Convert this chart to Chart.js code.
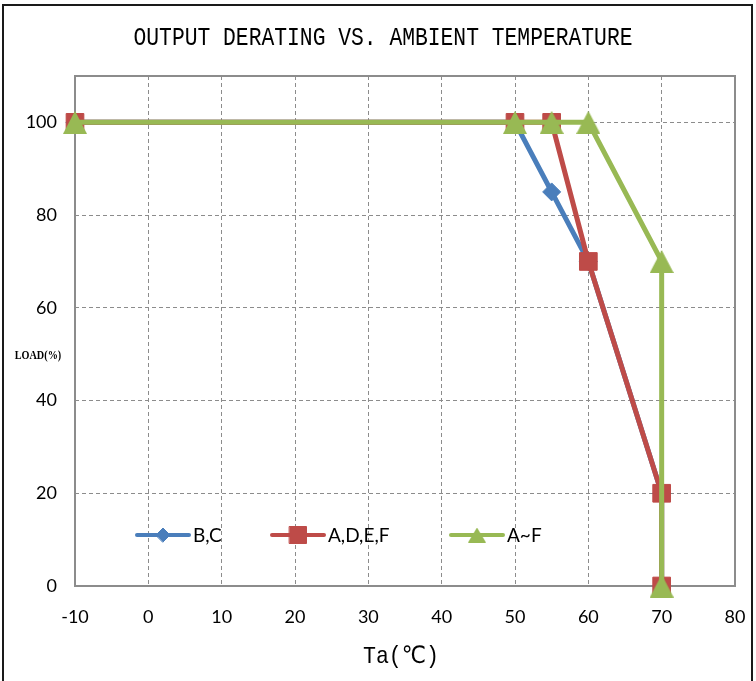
<!DOCTYPE html>
<html>
<head>
<meta charset="utf-8">
<script src="https://cdn.jsdelivr.net/npm/chart.js@4"></script>
<style>
  html, body { margin: 0; padding: 0; background: #fff; }
  #wrap { width: 756px; height: 681px; }
</style>
</head>
<body>
<div id="wrap"><canvas id="derating" width="756" height="681"></canvas></div>
<script>
// derating curves
const xTicks = [-10, 0, 10, 20, 30, 40, 50, 60, 70, 80];
const yTicks = [0, 20, 40, 60, 80, 100];

const tempBC = [-10, 50, 55, 60, 70, 70];
const loadBC = [100, 100, 85, 70, 20, 0];

const tempADEF = [-10, 50, 55, 60, 70, 70];
const loadADEF = [100, 100, 100, 70, 20, 0];

const tempAF = [-10, 50, 55, 60, 70, 70];
const loadAF = [100, 100, 100, 100, 70, 0];

const seriesNames = ['B,C', 'A,D,E,F', 'A~F'];

const blue = '#4a7ebb';
const red = '#be4b48';
const green = '#98b954';
const gridGray = '#8c8c8c';

const toPoints = (xs, ys) => xs.map((x, i) => ({ x: x, y: ys[i] }));

const tickFont = { family: 'Lato, "Open Sans", sans-serif', size: 18 };

// excel style triangle, centred on its box
function makeTriangle(w, h, color) {
    const c = document.createElement('canvas');
    c.width = w;
    c.height = h;
    const g = c.getContext('2d');
    g.fillStyle = color;
    g.beginPath();
    g.moveTo(w / 2, 0);
    g.lineTo(w, h);
    g.lineTo(0, h);
    g.closePath();
    g.fill();
    return c;
}
const bigTriangle = makeTriangle(24, 23, green);
const smallTriangle = makeTriangle(18, 15, green);

// frame, plot box, titles and in-plot legend
const decorPlugin = {
    id: 'decor',
    beforeDatasetsDraw(chart) {
        const ctx = chart.ctx;
        const a = chart.chartArea;
        ctx.save();
        ctx.strokeStyle = gridGray;
        ctx.lineWidth = 2;
        ctx.strokeRect(a.left, a.top, a.right - a.left, a.bottom - a.top);
        ctx.restore();
    },
    afterDraw(chart) {
        const ctx = chart.ctx;

        ctx.save();
        // outer frame
        ctx.strokeStyle = '#1a1a1a';
        ctx.lineWidth = 2;
        ctx.strokeRect(3, 5, 749, 700);

        // main title (narrow tall type)
        ctx.fillStyle = '#000';
        ctx.textAlign = 'center';
        ctx.textBaseline = 'middle';
        ctx.save();
        ctx.translate(383, 38);
        ctx.scale(0.82, 1);
        ctx.font = '26px "Liberation Mono", monospace';
        ctx.fillText('OUTPUT DERATING VS. AMBIENT TEMPERATURE', 0, 0);
        ctx.restore();

        // x title
        ctx.save();
        ctx.translate(401, 657);
        ctx.scale(0.9, 1);
        ctx.font = '24px "Liberation Mono", "DejaVu Sans", monospace';
        ctx.fillText('Ta(℃)', 0, 0);
        ctx.restore();

        // y title
        ctx.save();
        ctx.translate(38, 356);
        ctx.scale(0.85, 1);
        ctx.font = 'bold 12px "Liberation Serif", serif';
        ctx.fillText('LOAD(%)', 0, 0);
        ctx.restore();

        // legend
        const items = [
            { x: 137, color: blue, style: 'rectRot', r: 7 },
            { x: 272, color: red, style: 'rect', r: 12 },
            { x: 451, color: green, style: smallTriangle, r: 9 }
        ];
        const ly = 535;
        ctx.font = '19px Lato, "Open Sans", sans-serif';
        ctx.textAlign = 'left';
        items.forEach((it, i) => {
            ctx.strokeStyle = it.color;
            ctx.lineWidth = 4;
            ctx.lineCap = 'round';
            ctx.beginPath();
            ctx.moveTo(it.x, ly);
            ctx.lineTo(it.x + 52, ly);
            ctx.stroke();
            ctx.fillStyle = it.color;
            ctx.strokeStyle = it.color;
            ctx.lineWidth = 1;
            Chart.helpers.drawPoint(ctx, {
                pointStyle: it.style,
                radius: it.r,
                rotation: 0,
                borderWidth: 1
            }, it.x + 26, ly);
            ctx.fillStyle = '#000';
            ctx.fillText(seriesNames[i], it.x + 56, ly + 1);
        });
        ctx.restore();
    }
};

new Chart(document.getElementById('derating').getContext('2d'), {
    type: 'line',
    data: {
        datasets: [
            {
                label: seriesNames[2],
                data: toPoints(tempAF, loadAF),
                borderColor: green,
                backgroundColor: green,
                borderWidth: 5,
                pointStyle: bigTriangle,
                pointRadius: 12,
                pointBorderWidth: 0,
                tension: 0,
                clip: false
            },
            {
                label: seriesNames[1],
                data: toPoints(tempADEF, loadADEF),
                borderColor: red,
                backgroundColor: red,
                borderWidth: 5,
                pointStyle: 'rect',
                pointRadius: 12.5,
                pointBorderWidth: 1,
                tension: 0,
                clip: false
            },
            {
                label: seriesNames[0],
                data: toPoints(tempBC, loadBC),
                borderColor: blue,
                backgroundColor: blue,
                borderWidth: 5,
                pointStyle: 'rectRot',
                pointRadius: 9,
                pointBorderWidth: 1,
                tension: 0,
                clip: false
            }
        ]
    },
    options: {
        responsive: false,
        animation: false,
        layout: {
            padding: { top: 76, right: 21, left: 0, bottom: 0 }
        },
        scales: {
            x: {
                type: 'linear',
                min: xTicks[0],
                max: xTicks[xTicks.length - 1],
                afterBuildTicks: (scale) => { scale.ticks = xTicks.map(v => ({ value: v })); },
                afterFit: (scale) => {
                    scale.height = 95;
                    scale.paddingLeft = 0;
                    scale.paddingRight = 0;
                },
                ticks: {
                    color: '#000',
                    font: tickFont,
                    padding: 20,
                    maxRotation: 0
                },
                grid: {
                    color: gridGray,
                    lineWidth: 1,
                    drawTicks: false
                },
                border: { display: false, dash: [4, 3] }
            },
            y: {
                type: 'linear',
                min: 0,
                max: 110,
                afterBuildTicks: (scale) => { scale.ticks = yTicks.map(v => ({ value: v })); },
                afterFit: (scale) => { scale.width = 75; },
                ticks: {
                    color: '#000',
                    font: tickFont,
                    padding: 18
                },
                grid: {
                    color: gridGray,
                    lineWidth: 1,
                    drawTicks: false
                },
                border: { display: false, dash: [4, 3] }
            }
        },
        plugins: {
            legend: { display: false },
            title: { display: false },
            tooltip: { enabled: false }
        }
    },
    plugins: [decorPlugin]
});
</script>
</body>
</html>
